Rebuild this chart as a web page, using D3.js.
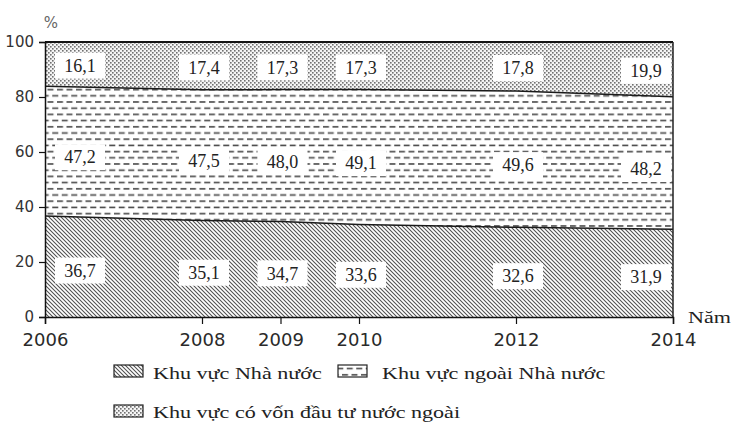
<!DOCTYPE html>
<html>
<head>
<meta charset="utf-8">
<script src="https://cdn.jsdelivr.net/npm/d3@7"></script>
<style>
  html, body { margin: 0; padding: 0; background: #fff; }
  svg { display: block; }
</style>
</head>
<body>
<svg id="chart" width="738" height="438"></svg>
<script>
// ---- data ----
const years = [2006, 2008, 2009, 2010, 2012, 2014];
const stateSector = [36.7, 35.1, 34.7, 33.6, 32.6, 31.9];
const nonStateSector = [47.2, 47.5, 48.0, 49.1, 49.6, 48.2];
const foreignSector = [16.1, 17.4, 17.3, 17.3, 17.8, 19.9];
const seriesNames = ["Khu vực Nhà nước", "Khu vực ngoài Nhà nước", "Khu vực có vốn đầu tư nước ngoài"];
const yTicks = [0, 20, 40, 60, 80, 100];
const yUnit = "%";
const xUnit = "Năm";

// ---- build table ----
const keys = ["state", "nonState", "foreign"];
const table = years.map((yr, i) => ({
  year: yr, state: stateSector[i], nonState: nonStateSector[i], foreign: foreignSector[i]
}));
const stacked = d3.stack().keys(keys)(table);

const svg = d3.select("#chart");
const mLeft = 45, mRight = 673, mTop = 42, mBottom = 317;
const x = d3.scaleLinear().domain([2006, 2014]).range([mLeft, mRight]);
const y = d3.scaleLinear().domain([0, 100]).range([mBottom, mTop]);

// ---- patterns ----
const defs = svg.append("defs");
const hatch = defs.append("pattern").attr("id", "pHatch")
  .attr("patternUnits", "userSpaceOnUse").attr("width", 4).attr("height", 4);
hatch.append("rect").attr("width", 4).attr("height", 4).attr("fill", "#fff");
hatch.append("path").attr("d", "M-1,-1 L5,5 M-1,3 L1,5 M3,-1 L5,1")
  .attr("stroke", "#505050").attr("stroke-width", 1.05);

const dash = defs.append("pattern").attr("id", "pDash")
  .attr("patternUnits", "userSpaceOnUse").attr("width", 9.5).attr("height", 12.4);
dash.append("rect").attr("width", 9.5).attr("height", 12.4).attr("fill", "#fff");
dash.append("rect").attr("x", 0).attr("y", 2).attr("width", 6).attr("height", 1.6).attr("fill", "#4a4a4a");
dash.append("rect").attr("x", 4.75).attr("y", 8.2).attr("width", 6).attr("height", 1.6).attr("fill", "#4a4a4a");
dash.append("rect").attr("x", -4.75).attr("y", 8.2).attr("width", 6).attr("height", 1.6).attr("fill", "#4a4a4a");

const dots = defs.append("pattern").attr("id", "pDots")
  .attr("patternUnits", "userSpaceOnUse").attr("width", 4).attr("height", 4);
dots.append("rect").attr("width", 4).attr("height", 4).attr("fill", "#f4f4f4");
dots.append("rect").attr("x", 0).attr("y", 0).attr("width", 1.6).attr("height", 1.6).attr("fill", "#707070");
dots.append("rect").attr("x", 2).attr("y", 2).attr("width", 1.6).attr("height", 1.6).attr("fill", "#707070");

const fills = { state: "url(#pHatch)", nonState: "url(#pDash)", foreign: "url(#pDots)" };

// ---- areas ----
const area = d3.area()
  .x(d => x(d.data.year))
  .y0(d => y(d[0]))
  .y1(d => y(d[1]));
svg.append("g").selectAll("path").data(stacked).join("path")
  .attr("d", area)
  .attr("fill", s => fills[s.key]);

// boundary lines
const line = d3.line().x(d => x(d.data.year)).y(d => y(d[1]));
svg.append("g").selectAll("path").data(stacked.slice(0, 2)).join("path")
  .attr("d", line).attr("fill", "none")
  .attr("stroke", "#1a1a1a").attr("stroke-width", 1.5);

// frame top and right
svg.append("line").attr("x1", mLeft).attr("x2", mRight).attr("y1", y(100)).attr("y2", y(100))
  .attr("stroke", "#111").attr("stroke-width", 2);
svg.append("line").attr("x1", mRight).attr("x2", mRight).attr("y1", y(100)).attr("y2", y(0))
  .attr("stroke", "#222").attr("stroke-width", 1.5);

// ---- axes ----
const yAxis = svg.append("g").attr("transform", `translate(${mLeft},0)`)
  .call(d3.axisLeft(y).tickValues(yTicks).tickSize(6).tickPadding(5));
yAxis.select(".domain").attr("stroke", "#111").attr("stroke-width", 1.5);
yAxis.selectAll(".tick line").attr("stroke", "#111").attr("stroke-width", 1.2);
yAxis.selectAll("text").attr("font-family", "DejaVu Sans").attr("font-size", 15).attr("fill", "#333");

const xAxis = svg.append("g").attr("transform", `translate(0,${mBottom})`)
  .call(d3.axisBottom(x).tickValues(years).tickFormat(d3.format("d")).tickSize(7).tickPadding(9));
xAxis.select(".domain").attr("stroke", "#111").attr("stroke-width", 1.5);
xAxis.selectAll(".tick line").attr("stroke", "#111").attr("stroke-width", 1.2);
xAxis.selectAll("text").attr("font-family", "DejaVu Sans").attr("font-size", 18).attr("fill", "#2a2a2a");

svg.append("text").attr("x", 51).attr("y", 28).attr("text-anchor", "middle")
  .attr("font-family", "DejaVu Sans").attr("font-size", 15).attr("fill", "#666").text(yUnit);

const stretch = 1.3;
svg.append("text").attr("transform", `translate(688,323) scale(${stretch},1)`)
  .attr("font-family", "Liberation Serif").attr("font-size", 17).attr("fill", "#222").text(xUnit);

// ---- value labels ----
const fmt = v => d3.format(".1f")(v).replace(".", ",");
const labelDy = { state: 4, nonState: 6, foreign: 1.5 };
const labelX = yr => Math.min(Math.max(x(yr) + 2, mLeft + 35), mRight - 27);
const lg = svg.append("g");
stacked.forEach(s => {
  s.forEach(d => {
    const cx = labelX(d.data.year);
    const cy = y((d[0] + d[1]) / 2) + labelDy[s.key];
    lg.append("rect").attr("x", cx - 25).attr("y", cy - 13).attr("width", 50).attr("height", 26)
      .attr("fill", "#fff");
    lg.append("text").attr("x", cx).attr("y", cy).attr("dy", "0.35em")
      .attr("text-anchor", "middle").attr("font-family", "Liberation Serif")
      .attr("font-size", 18).attr("fill", "#222").text(fmt(d.data[s.key]));
  });
});

// ---- legend ----
const legendItems = [
  { key: "state", name: seriesNames[0], bx: 114, by: 365, tx: 153, ty: 379 },
  { key: "nonState", name: seriesNames[1], bx: 338, by: 365, tx: 382, ty: 379 },
  { key: "foreign", name: seriesNames[2], bx: 114, by: 405, tx: 153, ty: 418 }
];
const leg = svg.append("g");
legendItems.forEach(it => {
  leg.append("rect").attr("x", it.bx).attr("y", it.by).attr("width", 29).attr("height", 12)
    .attr("fill", fills[it.key]).attr("stroke", "#222").attr("stroke-width", 1.2);
  leg.append("text").attr("transform", `translate(${it.tx},${it.ty}) scale(${stretch},1)`)
    .attr("font-family", "Liberation Serif").attr("font-size", 17).attr("fill", "#222").text(it.name);
});
</script>
</body>
</html>
